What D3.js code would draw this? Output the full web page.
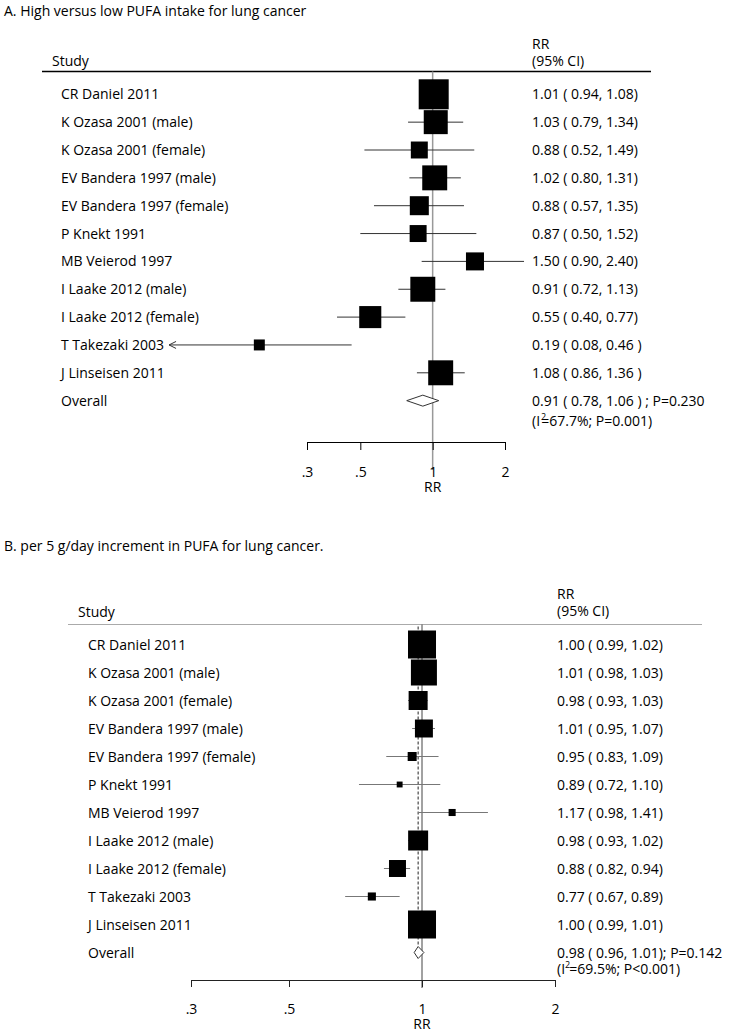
<!DOCTYPE html>
<html>
<head>
<meta charset="utf-8">
<script src="https://cdn.jsdelivr.net/npm/d3@7"></script>
<style>
  body { margin: 0; background: #fff; }
  svg text { font-family: "Open Sans", "Noto Sans", sans-serif; font-size: 14px; fill: #000; }
</style>
</head>
<body>
<div id="vis"></div>
<script>
// studies, same order in both panels
const studies = [
    "CR Daniel 2011", "K Ozasa 2001 (male)", "K Ozasa 2001 (female)",
    "EV Bandera 1997 (male)", "EV Bandera 1997 (female)", "P Knekt 1991",
    "MB Veierod 1997", "I Laake 2012 (male)", "I Laake 2012 (female)",
    "T Takezaki 2003", "J Linseisen 2011"
];

// A. high vs low intake
const rrA = [1.01, 1.03, 0.88, 1.02, 0.88, 0.87, 1.50, 0.91, 0.55, 0.19, 1.08];
const loA = [0.94, 0.79, 0.52, 0.80, 0.57, 0.50, 0.90, 0.72, 0.40, 0.08, 0.86];
const hiA = [1.08, 1.34, 1.49, 1.31, 1.35, 1.52, 2.40, 1.13, 0.77, 0.46, 1.36];
const weightA = [17.2, 11.0, 5.5, 11.9, 6.9, 5.5, 6.2, 11.9, 9.3, 2.3, 11.9];
const spacedA = [0, 0, 0, 0, 0, 0, 0, 0, 0, 1, 1];
const overallA = [0.91, 0.78, 1.06];
const pA = "0.230", i2A = "67.7", hetPA = "=0.001";

// B. per 5 g/day increment
const rrB = [1.00, 1.01, 0.98, 1.01, 0.95, 0.89, 1.17, 0.98, 0.88, 0.77, 1.00];
const loB = [0.99, 0.98, 0.93, 0.95, 0.83, 0.72, 0.98, 0.93, 0.82, 0.67, 0.99];
const hiB = [1.02, 1.03, 1.03, 1.07, 1.09, 1.10, 1.41, 1.02, 0.94, 0.89, 1.01];
const weightB = [20.4, 17.6, 9.4, 8.4, 2.1, 0.9, 1.3, 10.4, 7.5, 1.7, 20.4];
const spacedB = [0, 0, 0, 0, 0, 0, 0, 0, 0, 0, 0];
const overallB = [0.98, 0.96, 1.01];
const pB = "0.142", i2B = "69.5", hetPB = "<0.001";

const tickValues = [0.3, 0.5, 1, 2];
const tickLabels = [".3", ".5", "1", "2"];

const width = 737, height = 1034;
const svg = d3.select('#vis').append('svg')
    .attr('width', width)
    .attr('height', height);

const fmt = d3.format('.2f');

function drawPanel(p) {
    const g = svg.append('g');
    const n = p.rr.length;
    const x = d3.scaleLog()
        .domain([tickValues[0], tickValues[tickValues.length - 1]])
        .range(p.xRange);
    const y = i => p.row0 + i * p.rowStep;
    const size = d3.scaleSqrt().domain([0, d3.max(p.weight)]).range([0, p.maxBox]);

    g.append('text').attr('x', 4).attr('y', p.titleY).text(p.title);

    // header
    g.append('text').attr('x', p.studyX).attr('y', p.studyY).text('Study');
    g.append('text').attr('x', p.valueX).attr('y', p.rrHeadY).text('RR');
    g.append('text').attr('x', p.valueX).attr('y', p.ciHeadY).text('(95% CI)');
    g.append('line')
        .attr('x1', p.ruleX[0]).attr('x2', p.ruleX[1])
        .attr('y1', p.ruleY).attr('y2', p.ruleY)
        .style('stroke', p.ruleColor).style('stroke-width', p.ruleWidth);

    // line of no effect
    g.append('line')
        .attr('x1', x(1)).attr('x2', x(1))
        .attr('y1', p.ruleY).attr('y2', p.nullEnd)
        .style('stroke', p.nullColor).style('stroke-width', p.nullWidth);

    if (p.dashed) {
        g.append('line')
            .attr('x1', x(p.overall[0])).attr('x2', x(p.overall[0]))
            .attr('y1', p.ruleY + 2).attr('y2', y(n) - 6)
            .style('stroke', '#222').style('stroke-width', 1)
            .style('stroke-dasharray', '3,2');
    }

    // confidence intervals
    g.selectAll('line.ci')
        .data(d3.range(n))
        .join('line')
        .attr('class', 'ci')
        .attr('x1', i => x(p.lo[i])).attr('x2', i => x(p.hi[i]))
        .attr('y1', i => y(i)).attr('y2', i => y(i))
        .style('stroke', p.ciColor).style('stroke-width', 1);

    // arrow where the interval runs off the axis
    g.selectAll('path.arrow')
        .data(d3.range(n).filter(i => p.lo[i] < tickValues[0]))
        .join('path')
        .attr('class', 'arrow')
        .attr('d', i => `M${x(p.lo[i]) + 7},${y(i) - 3.5}L${x(p.lo[i])},${y(i)}L${x(p.lo[i]) + 7},${y(i) + 3.5}`)
        .style('fill', 'none').style('stroke', p.ciColor).style('stroke-width', 1);

    // weighted boxes
    g.selectAll('rect.box')
        .data(d3.range(n))
        .join('rect')
        .attr('class', 'box')
        .attr('x', i => x(p.rr[i]) - size(p.weight[i]) / 2)
        .attr('y', i => y(i) - size(p.weight[i]) / 2)
        .attr('width', i => size(p.weight[i]))
        .attr('height', i => size(p.weight[i]))
        .style('fill', '#000');

    // pooled estimate
    const yo = y(n), h = p.diamondH;
    g.append('path')
        .attr('d', `M${x(p.overall[1])},${yo}L${x(p.overall[0])},${yo - h}L${x(p.overall[2])},${yo}L${x(p.overall[0])},${yo + h}Z`)
        .style('fill', '#fff').style('stroke', '#333').style('stroke-width', 1);

    // study labels
    g.selectAll('text.study')
        .data(studies.concat(['Overall']))
        .join('text')
        .attr('class', 'study')
        .attr('x', p.labelX)
        .attr('y', (d, i) => y(i) + 5)
        .text(d => d);

    // RR (95% CI) column
    g.selectAll('text.value')
        .data(d3.range(n))
        .join('text')
        .attr('class', 'value')
        .attr('x', p.valueX)
        .attr('y', i => y(i) + 5)
        .text(i => `${fmt(p.rr[i])} ( ${fmt(p.lo[i])}, ${fmt(p.hi[i])}${p.spaced[i] ? ' )' : ')'}`);

    g.append('text')
        .attr('x', p.valueX).attr('y', yo + 5)
        .text(`${fmt(p.overall[0])} ( ${fmt(p.overall[1])}, ${fmt(p.overall[2])}${p.overallSep}P=${p.pval}`);

    const het = g.append('text').attr('x', p.valueX).attr('y', yo + 5 + p.hetDy);
    het.append('tspan').text('(I');
    het.append('tspan').attr('dx', p.supDx).attr('dy', -6).style('font-size', '9px').text('2');
    het.append('tspan').attr('dx', p.eqDx).attr('dy', 6).text(`=${p.i2}%; P${p.hetP})`);

    // axis
    const axis = d3.axisBottom(x)
        .tickValues(tickValues)
        .tickFormat((d, i) => tickLabels[i])
        .tickSize(p.tickLen)
        .tickSizeOuter(0)
        .tickPadding(p.tickPad);
    const ax = g.append('g')
        .attr('transform', `translate(0,${p.axisY})`)
        .call(axis);
    ax.selectAll('path, line').style('stroke', p.axisColor);

    g.append('text')
        .attr('x', x(1)).attr('y', p.rrLabelY)
        .style('text-anchor', 'middle')
        .text('RR');
}

drawPanel({
    title: 'A. High versus low PUFA intake for lung cancer',
    rr: rrA, lo: loA, hi: hiA, weight: weightA, spaced: spacedA,
    overall: overallA, overallSep: ' ) ; ', pval: pA, i2: i2A, hetP: hetPA,
    titleY: 16, studyX: 52, studyY: 65.5, rrHeadY: 49, ciHeadY: 65.5,
    ruleX: [42, 651], ruleY: 71.5, ruleColor: '#000', ruleWidth: 1.6,
    labelX: 61, valueX: 532, row0: 94.3, rowStep: 27.85,
    xRange: [307, 505], nullEnd: 470, nullColor: '#999', nullWidth: 1.5,
    ciColor: '#333', maxBox: 30, diamondH: 5.5, dashed: false,
    hetDy: 20, supDx: 1, eqDx: -5,
    axisY: 442, tickLen: 8, tickPad: 17, axisColor: '#000', rrLabelY: 492
});

drawPanel({
    title: 'B. per 5 g/day increment in PUFA for lung cancer.',
    rr: rrB, lo: loB, hi: hiB, weight: weightB, spaced: spacedB,
    overall: overallB, overallSep: '); ', pval: pB, i2: i2B, hetP: hetPB,
    titleY: 551, studyX: 78, studyY: 617, rrHeadY: 599, ciHeadY: 616,
    ruleX: [68, 702], ruleY: 624.5, ruleColor: '#aaa', ruleWidth: 1,
    labelX: 88, valueX: 557, row0: 644.5, rowStep: 28,
    xRange: [191, 555], nullEnd: 988, nullColor: '#444', nullWidth: 1,
    ciColor: '#777', maxBox: 28, diamondH: 6, dashed: true,
    hetDy: 16, supDx: 0, eqDx: -1,
    axisY: 980, tickLen: 7, tickPad: 17, axisColor: '#222', rrLabelY: 1029
});
</script>
</body>
</html>
